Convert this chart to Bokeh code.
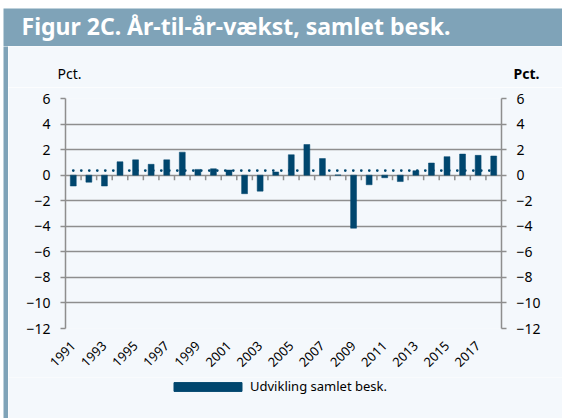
import math
from bokeh.plotting import figure
from bokeh.models import (Range1d, LinearAxis, FixedTicker, Label, Legend, LegendItem,
                          ColumnDataSource, Grid, Spacer)
from bokeh.layouts import column, row
from bokeh.embed import file_html
from bokeh.resources import INLINE

# ---- data ----
years = list(range(1991, 2019))
growth = [-0.85, -0.55, -0.85, 1.05, 1.2, 0.85, 1.2, 1.8, 0.45, 0.5,
          0.4, -1.45, -1.25, 0.25, 1.6, 2.4, 1.3, 0.02, -4.15, -0.75,
          -0.2, -0.5, 0.35, 0.95, 1.45, 1.65, 1.55, 1.5]
average = 0.36
year_labels = [str(y) for y in range(1991, 2019, 2)]
y_ticks = [-12, -10, -8, -6, -4, -2, 0, 2, 4, 6]
series_name = "Udvikling samlet besk."
title_text = "Figur 2C. År-til-år-vækst, samlet besk."
unit_text = "Pct."

# ---- style ----
BAND = "#7fa3b8"
PANEL = "#f4f8fc"
BAR = "#00466e"
GRID = "#8e8e8e"
FONT = "Noto Sans"
W = 559          # width of the boxed chart
INNER = W - 5    # width right of the left strip


def bare(fig, color):
    fig.grid.visible = False
    fig.outline_line_color = None
    fig.background_fill_color = color
    fig.border_fill_color = color
    fig.frame_align = False


def plain(width, height):
    return figure(width=width, height=height, x_range=Range1d(0, width),
                  y_range=Range1d(0, height), output_backend="svg", toolbar_location=None,
                  min_border=0, x_axis_location=None, y_axis_location=None)


# ---- title band ----
tf = plain(W, 38)
bare(tf, BAND)
tf.add_layout(Label(x=18, y=21, text=title_text, text_color="white", text_font=FONT,
                    text_font_style="bold", text_font_size="23px",
                    text_baseline="middle"))

# ---- left strip ----
sf = plain(5, 372)
bare(sf, BAND)

# ---- unit labels row ----
uf = plain(INNER, 41)
bare(uf, PANEL)
uf.add_layout(Label(x=49, y=14, text=unit_text, text_font=FONT, text_font_size="14px",
                    text_baseline="middle", text_color="black"))
uf.add_layout(Label(x=505, y=14, text=unit_text, text_font=FONT, text_font_size="14px",
                    text_font_style="bold", text_baseline="middle", text_color="black"))

# ---- chart ----
p = figure(width=INNER, height=290, x_range=Range1d(years[0] - 0.5, years[-1] + 0.5),
           y_range=Range1d(y_ticks[0], y_ticks[-1]), output_backend="svg",
           toolbar_location=None, x_axis_location=None, y_axis_location=None,
           min_border_left=57, min_border_right=61, min_border_top=11, min_border_bottom=49)
bare(p, PANEL)

p.add_layout(Grid(dimension=1, ticker=FixedTicker(ticks=y_ticks),
                  grid_line_color=GRID, grid_line_width=1.5))


def yaxis():
    return LinearAxis(ticker=FixedTicker(ticks=y_ticks), major_tick_out=5, major_tick_in=0,
                      minor_tick_out=0, minor_tick_in=0, axis_line_color=GRID,
                      axis_line_width=1.5, major_tick_line_color=GRID, major_tick_line_width=1.5,
                      major_label_standoff=10, major_label_text_font=FONT,
                      major_label_text_font_size="14px", major_label_text_color="black")


p.add_layout(yaxis(), "left")
p.add_layout(yaxis(), "right")

xlab = LinearAxis(ticker=FixedTicker(ticks=[int(s) for s in year_labels]),
                  major_label_overrides={int(s): s for s in year_labels},
                  major_tick_out=0, major_tick_in=0, minor_tick_out=0, minor_tick_in=0,
                  axis_line_color=None, major_label_orientation=math.pi / 4,
                  major_label_standoff=15, major_label_text_font=FONT,
                  major_label_text_font_size="13px", major_label_text_color="black")
p.add_layout(xlab, "below")

# category boundary ticks on the zero line
bounds = [y - 0.5 for y in years[1:]]
p.segment(x0=bounds, y0=[0] * len(bounds), x1=bounds, y1=[-0.4] * len(bounds),
          line_color=GRID, line_width=1.5)

src = ColumnDataSource(dict(year=years, growth=growth))
bars = p.vbar(x="year", top="growth", bottom=0, width=0.38, source=src,
              fill_color=BAR, line_color=BAR, line_width=0.5)

p.line(x=[years[0], years[-1]], y=[average, average], line_color=BAR, line_width=2.8,
       line_dash="0 8", line_cap="round")

# ---- legend row ----
lf = plain(INNER, 41)
bare(lf, PANEL)
key = lf.vbar(x="year", top="growth", bottom=0, width=0.38, source=src,
              fill_color=BAR, line_color=BAR)
legend = Legend(items=[LegendItem(label=series_name, renderers=[key])],
                location=(157, 23), orientation="horizontal", glyph_width=85, glyph_height=11,
                label_standoff=0, padding=0, margin=0, border_line_color=None,
                background_fill_alpha=0, label_text_font=FONT, label_text_font_size="13px",
                label_text_color="black")
lf.add_layout(legend)

boxed = column(tf, row(sf, column(uf, p, lf)))
layout = column(Spacer(width=562, height=8), row(Spacer(width=3, height=410), boxed))
open("out.html", "w").write(file_html(layout, INLINE))
